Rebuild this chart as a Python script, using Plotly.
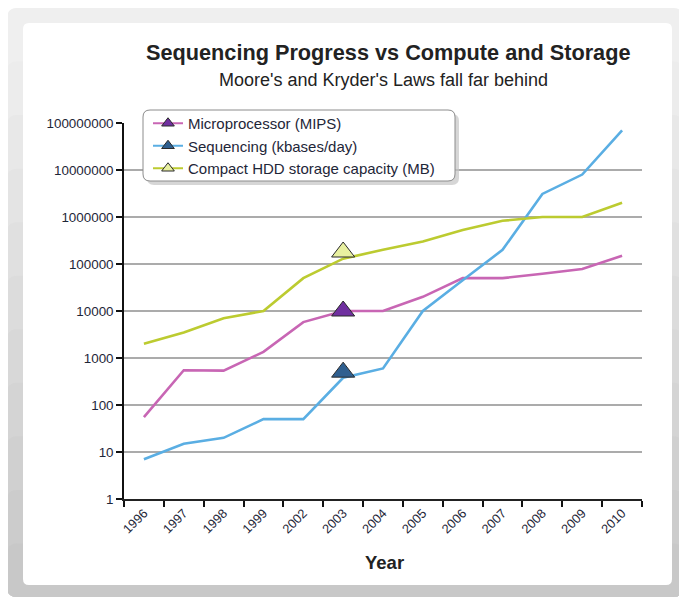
import plotly.graph_objects as go

years = ["1996", "1997", "1998", "1999", "2002", "2003", "2004",
         "2005", "2006", "2007", "2008", "2009", "2010"]
mips = [55, 550, 540, 1350, 5800, 10000, 10000, 20000, 50000, 50000, 62000, 78000, 150000]
sequencing = [7, 15, 20, 50, 50, 380, 600, 10000, 45000, 200000, 3100000, 8000000, 70000000]
hdd = [2000, 3500, 7000, 10000, 50000, 130000, 200000, 300000, 530000, 830000, 1000000, 1000000, 2000000]

marker_year = ["2003"]
mips_marker = [10000]
seq_marker = [500]
hdd_marker = [180000]

y_tickvals = [1, 10, 100, 1000, 10000, 100000, 1000000, 10000000, 100000000]
y_ticktext = ["1", "10", "100", "1000", "10000", "100000", "1000000", "10000000", "100000000"]

names = ["Microprocessor (MIPS)", "Sequencing (kbases/day)", "Compact HDD storage capacity (MB)"]
line_colors = ["#c866b4", "#5aaee3", "#bccb30"]
marker_colors = ["#7030a0", "#2f5f8f", "#e8f0a0"]

FONT = "Liberation Sans, Arial, sans-serif"
TXT = "#1e2638"

# page offset of the figure div (body margin)
OFF = 8
FW, FH = 687 - OFF, 600 - OFF
# plot area geometry in page pixels
L, R, T, B = 124, 642, 123, 499
W, H = R - L, B - T


def px(x):
    return (x - L) / W


def py(y):
    return (B - y) / H


def rounded(x0, y0, x1, y1, r):
    X0, X1 = px(x0), px(x1)
    Y0, Y1 = py(y0), py(y1)
    rx, ry = r / W, r / H
    return (f"M {X0+rx},{Y0} L {X1-rx},{Y0} Q {X1},{Y0} {X1},{Y0-ry} "
            f"L {X1},{Y1+ry} Q {X1},{Y1} {X1-rx},{Y1} L {X0+rx},{Y1} "
            f"Q {X0},{Y1} {X0},{Y1+ry} L {X0},{Y0-ry} Q {X0},{Y0} {X0+rx},{Y0} Z")


fig = go.Figure()

series = [mips, sequencing, hdd]
markers = [mips_marker, seq_marker, hdd_marker]
for vals, col in zip(series, line_colors):
    fig.add_trace(go.Scatter(x=years, y=vals, mode="lines",
                             line=dict(color=col, width=2.6),
                             showlegend=False, hoverinfo="x+y"))
for mv, mc in zip(markers, marker_colors):
    fig.add_trace(go.Scatter(x=marker_year, y=mv, mode="markers",
                             marker=dict(symbol="triangle-up", size=20, color=mc,
                                         line=dict(color="#2a2a2a", width=1)),
                             showlegend=False))
# legend entries
for name, lc, mc in zip(names, line_colors, marker_colors):
    fig.add_trace(go.Scatter(x=[None], y=[None], mode="lines+markers", name=name,
                             line=dict(color=lc, width=2),
                             marker=dict(symbol="triangle-up", size=11, color=mc,
                                         line=dict(color="#2a2a2a", width=1))))

shapes = []
# outer gray frame with vertical gradient
grays = ["#efefef", "#ececec", "#e8e8e8", "#e4e4e4", "#e0e0e0", "#dcdcdc",
         "#d8d8d8", "#d4d4d4", "#d0d0d0", "#cccccc", "#c8c8c8"]
top, bot = 8, 597
for i, g in enumerate(grays):
    y0 = top + i * (bot - top) / len(grays)
    shapes.append(dict(type="path", xref="paper", yref="paper", layer="below",
                       path=rounded(7, y0, 683, bot, 10), fillcolor=g,
                       line=dict(width=0)))
shapes.append(dict(type="path", xref="paper", yref="paper", layer="below",
                   path=rounded(23, 23, 672, 585, 6), fillcolor="white",
                   line=dict(width=0)))
# legend box with shadow
shapes.append(dict(type="path", xref="paper", yref="paper", layer="above",
                   path=rounded(147, 114, 459, 185, 7), fillcolor="#c4c4c4",
                   line=dict(width=0), opacity=0.7))
shapes.append(dict(type="path", xref="paper", yref="paper", layer="above",
                   path=rounded(143, 110, 455, 181, 7), fillcolor="white",
                   line=dict(color="#8c8c8c", width=1)))

annotations = [
    dict(text="<b>Sequencing Progress vs Compute and Storage</b>", x=px(388), y=py(52),
         xref="paper", yref="paper", showarrow=False, xanchor="center", yanchor="middle",
         font=dict(family=FONT, size=21.7, color="#222222")),
    dict(text="Moore's and Kryder's Laws fall far behind", x=px(383), y=py(80),
         xref="paper", yref="paper", showarrow=False, xanchor="center", yanchor="middle",
         font=dict(family=FONT, size=18, color="#222222")),
    dict(text="<b>Year</b>", x=px(384), y=py(562),
         xref="paper", yref="paper", showarrow=False, xanchor="center", yanchor="middle",
         font=dict(family=FONT, size=18.5, color="#222222")),
]

fig.update_layout(
    width=FW, height=FH,
    margin=dict(l=L - OFF, r=FW - (R - OFF), t=T - OFF, b=FH - (B - OFF)),
    paper_bgcolor="white", plot_bgcolor="rgba(0,0,0,0)",
    font=dict(family=FONT, color=TXT),
    shapes=shapes, annotations=annotations,
    legend=dict(x=px(148), y=py(107), xanchor="left", yanchor="top",
                bgcolor="rgba(0,0,0,0)", borderwidth=0,
                font=dict(family=FONT, size=15, color=TXT),
                tracegroupgap=0),
    xaxis=dict(type="category", categoryorder="array", categoryarray=years,
               range=[-0.5, len(years) - 0.5],
               tickson="boundaries", ticks="outside", ticklen=6, tickwidth=1.5,
               tickcolor="#111111", tickangle=-45, showgrid=False,
               showline=True, linecolor="#222222", linewidth=1.5,
               tickfont=dict(family=FONT, size=12.8, color=TXT), zeroline=False),
    yaxis=dict(type="log", range=[0, 8], tickvals=y_tickvals, ticktext=y_ticktext,
               ticks="outside", ticklen=6, tickwidth=1.5, tickcolor="#111111",
               showgrid=True, gridcolor="#ababab", gridwidth=1.5,
               showline=True, linecolor="#111111", linewidth=1.5,
               tickfont=dict(family=FONT, size=13.4, color=TXT), zeroline=False),
)

fig.write_html("out.html")
